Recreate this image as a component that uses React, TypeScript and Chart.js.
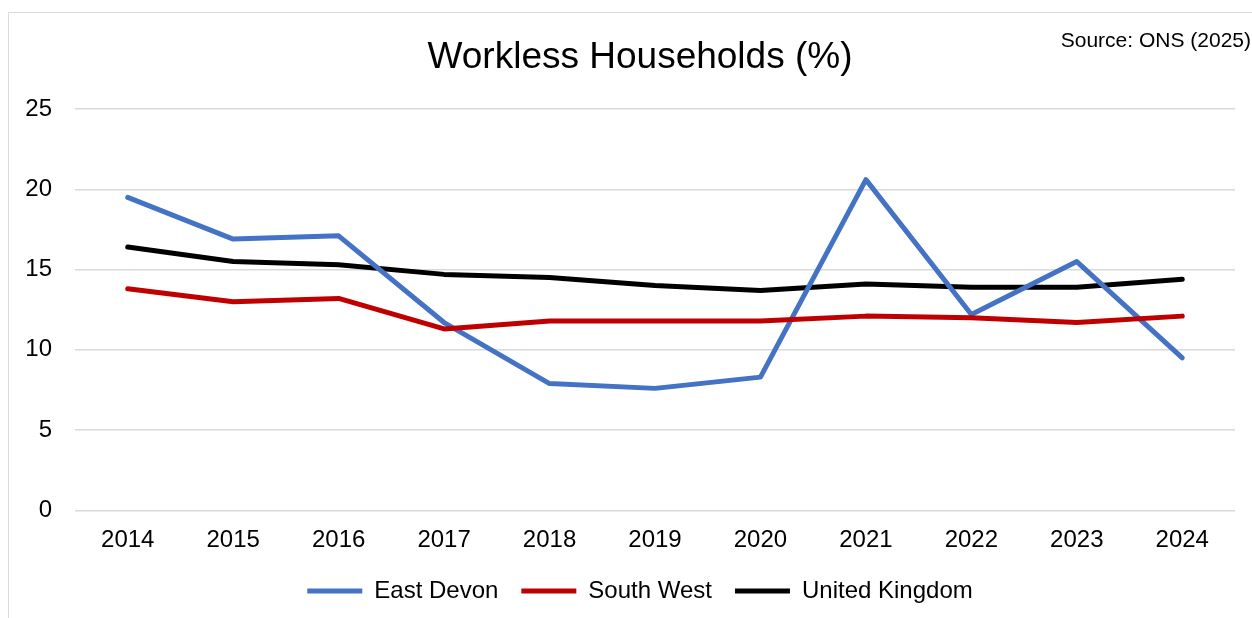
import React, { useEffect, useRef } from "react";
import { Chart, registerables } from "chart.js";

Chart.register(...registerables);

const years = ["2014", "2015", "2016", "2017", "2018", "2019", "2020", "2021", "2022", "2023", "2024"];
const eastDevon = [19.5, 16.9, 17.1, 11.7, 7.9, 7.6, 8.3, 20.6, 12.2, 15.5, 9.5];
const southWest = [13.8, 13.0, 13.2, 11.3, 11.8, 11.8, 11.8, 12.1, 12.0, 11.7, 12.1];
const unitedKingdom = [16.4, 15.5, 15.3, 14.7, 14.5, 14.0, 13.7, 14.1, 13.9, 13.9, 14.4];
const seriesNames = ["East Devon", "South West", "United Kingdom"];
const yMin = 0;
const yMax = 25;
const yStep = 5;
const titleText = "Workless Households (%)";
const sourceText = "Source: ONS (2025)";

const FONT = "'Liberation Sans', Arial, sans-serif";

const sourcePlugin = {
  id: "sourceNote",
  afterDraw(chart: any) {
    const ctx = chart.ctx;
    ctx.save();
    ctx.font = `21px ${FONT}`;
    ctx.fillStyle = "#000000";
    ctx.textAlign = "right";
    ctx.textBaseline = "middle";
    ctx.fillText(sourceText, chart.width - 1, 28);
    ctx.restore();
  },
};

// widen the y-axis label box to the left so its tick labels are not clipped
const yLabelRoomPlugin = {
  id: "yLabelRoom",
  afterLayout(chart: any) {
    const s = chart.scales.y;
    if (s) s.left = 0;
  },
};

export default function App() {
  const canvasRef = useRef<HTMLCanvasElement | null>(null);

  useEffect(() => {
    if (!canvasRef.current) return;
    const lineCommon = {
      borderWidth: 5,
      pointRadius: 0,
      pointHoverRadius: 0,
      tension: 0,
      borderCapStyle: "round" as const,
      borderJoinStyle: "round" as const,
      fill: false,
    };
    const chart = new Chart(canvasRef.current, {
      type: "line",
      data: {
        labels: years,
        datasets: [
          { label: seriesNames[0], data: eastDevon, borderColor: "#4472C4", backgroundColor: "#4472C4", order: 1, ...lineCommon },
          { label: seriesNames[1], data: southWest, borderColor: "#C00000", backgroundColor: "#C00000", order: 0, ...lineCommon },
          { label: seriesNames[2], data: unitedKingdom, borderColor: "#000000", backgroundColor: "#000000", order: 2, ...lineCommon },
        ],
      },
      options: {
        animation: false,
        responsive: false,
        maintainAspectRatio: false,
        layout: { padding: { left: 36, right: 17, top: 0, bottom: 5 } },
        plugins: {
          title: {
            display: true,
            text: titleText,
            color: "#000000",
            font: { family: FONT, size: 37, weight: "normal" },
            padding: { top: 23, bottom: 28.6 },
          },
          legend: {
            display: true,
            position: "bottom",
            labels: {
              usePointStyle: true,
              pointStyle: "line",
              pointStyleWidth: 55,
              padding: 23,
              color: "#000000",
              font: { family: FONT, size: 24 },
              sort: (a: any, b: any) => a.datasetIndex - b.datasetIndex,
            },
          },
          tooltip: { enabled: false },
        },
        scales: {
          x: {
            type: "category",
            offset: true,
            grid: { display: false, drawTicks: false },
            border: { display: false },
            ticks: {
              color: "#000000",
              font: { family: FONT, size: 24 },
              padding: 15.7,
              maxRotation: 0,
              autoSkip: false,
            },
            afterFit: (s: any) => {
              s.height = 45.6;
            },
          },
          y: {
            min: yMin,
            max: yMax,
            grid: { color: "#d9d9d9", lineWidth: 1.5, drawTicks: false },
            border: { display: false },
            ticks: {
              stepSize: yStep,
              color: "#000000",
              font: { family: FONT, size: 24 },
              padding: 23,
            },
            afterFit: (s: any) => {
              s.width = 30;
            },
          },
        },
      },
      plugins: [sourcePlugin, yLabelRoomPlugin],
    });
    return () => chart.destroy();
  }, []);

  return (
    <div
      style={{
        position: "absolute",
        left: 8,
        top: 12,
        width: 1244,
        height: 606,
        boxSizing: "border-box",
        borderTop: "1px solid #d9d9d9",
        borderLeft: "1px solid #d9d9d9",
        background: "#ffffff",
      }}
    >
      <canvas ref={canvasRef} width={1243} height={605} style={{ display: "block" }} />
    </div>
  );
}
